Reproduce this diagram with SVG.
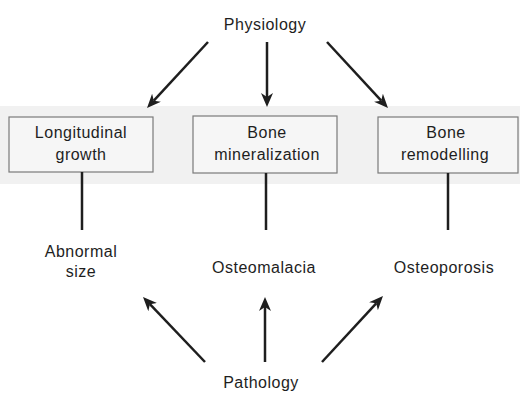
<svg xmlns="http://www.w3.org/2000/svg" width="520" height="394" viewBox="0 0 520 394">
<style>
text{font-family:"Liberation Sans",Arial,sans-serif;font-size:16px;fill:#1e1e1e;text-anchor:middle;letter-spacing:0.5px}
.box{fill:#f6f6f6;stroke:#7a7a7a;stroke-width:1.2}
.edge{stroke:#1e1e1e;stroke-width:2.5;fill:none}
.arr{marker-end:url(#ah)}
</style>
<defs>
<marker id="ah" markerUnits="userSpaceOnUse" markerWidth="16" markerHeight="14" viewBox="0 0 16 14" refX="4" refY="6" orient="auto">
<path d="M0,0 L14,6 L0,12 L4,6 z" fill="#1e1e1e"/>
</marker>
</defs>
<rect width="520" height="394" fill="#ffffff"/>
<rect x="0" y="106" width="520" height="78" fill="#f1f1f1"/>
<g id="physiology"><text x="265" y="30">Physiology</text></g>
<g id="longitudinal"><rect class="box" x="9" y="117" width="144" height="55"/><text x="81" y="138">Longitudinal</text><text x="81" y="160">growth</text></g>
<g id="mineralization"><rect class="box" x="193" y="116" width="144" height="57"/><text x="267" y="138">Bone</text><text x="267" y="160">mineralization</text></g>
<g id="remodelling"><rect class="box" x="378" y="117" width="140" height="56"/><text x="446" y="138">Bone</text><text x="445" y="160">remodelling</text></g>
<g id="abnormal"><text x="81" y="257">Abnormal</text><text x="81" y="277">size</text></g>
<g id="osteomalacia"><text x="264" y="273">Osteomalacia</text></g>
<g id="osteoporosis"><text x="444" y="273">Osteoporosis</text></g>
<g id="pathology"><text x="261" y="388">Pathology</text></g>
<g id="connectors">
<line class="edge arr" x1="208" y1="42" x2="153.8" y2="100.7"/>
<line class="edge arr" x1="267" y1="42" x2="267" y2="97"/>
<line class="edge arr" x1="327" y1="42" x2="381.2" y2="100.7"/>
<line class="edge" x1="82" y1="172" x2="82" y2="230"/>
<line class="edge" x1="266" y1="173" x2="266" y2="230"/>
<line class="edge" x1="448" y1="173" x2="448" y2="230"/>
<line class="edge arr" x1="205" y1="362" x2="149.9" y2="304.2"/>
<line class="edge arr" x1="265" y1="362" x2="265" y2="307"/>
<line class="edge arr" x1="322" y1="362" x2="376.2" y2="303.3"/>
</g>
</svg>
